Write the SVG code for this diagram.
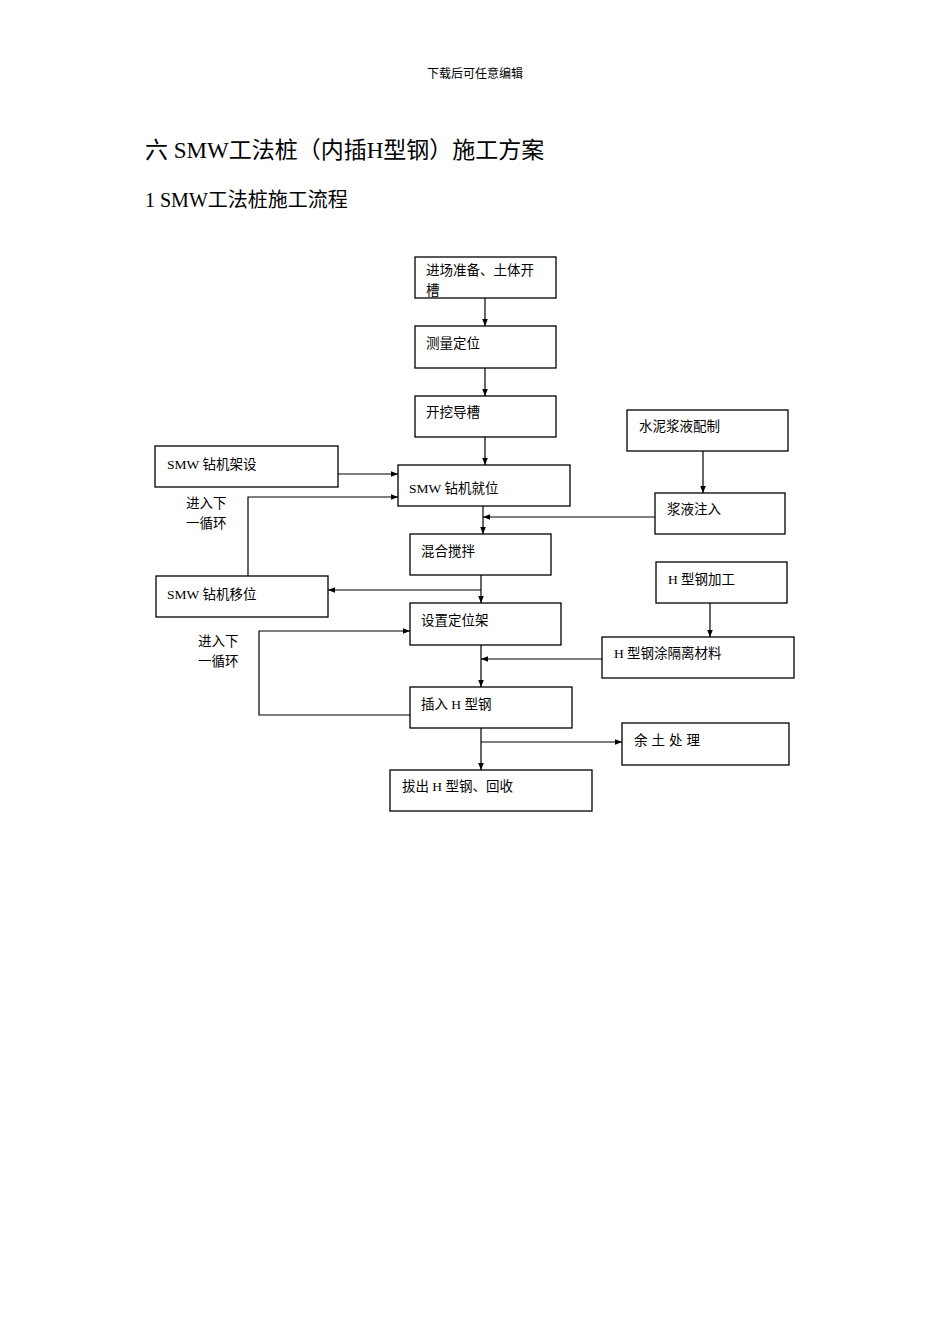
<svg xmlns="http://www.w3.org/2000/svg" width="950" height="1344" viewBox="0 0 950 1344">
<style>
.b{fill:#fff;stroke:#000;stroke-width:1.3}
.t{font-family:"Liberation Serif","Noto Sans CJK SC",serif;font-size:13.5px;fill:#000}
.c{fill:none;stroke:#000;stroke-width:1.2}
.h{font-family:"Liberation Serif","Noto Sans CJK SC",serif;fill:#000}
</style>
<defs><marker id="a" viewBox="0 0 10 10" refX="10" refY="5" markerWidth="7" markerHeight="7" orient="auto" markerUnits="userSpaceOnUse"><path d="M0,1 L10,5 L0,9 z" fill="#000"/></marker></defs>
<rect width="950" height="1344" fill="#fff"/>
<text class="h" x="475" y="78" font-size="12" text-anchor="middle">下载后可任意编辑</text>
<text class="h" x="145" y="158" font-size="23">六 SMW工法桩（内插H型钢）施工方案</text>
<text class="h" x="145" y="207" font-size="20">1   SMW工法桩施工流程</text>
<g id="n1"><rect class="b" x="415" y="257" width="141" height="41"/><text class="t" x="426" y="275">进场准备、土体开</text><text class="t" x="426" y="295">槽</text></g>
<g id="n2"><rect class="b" x="415" y="326" width="141" height="42"/><text class="t" x="426" y="348">测量定位</text></g>
<g id="n3"><rect class="b" x="415" y="396" width="141" height="41"/><text class="t" x="426" y="417">开挖导槽</text></g>
<g id="n4"><rect class="b" x="398" y="465" width="172" height="41"/><text class="t" x="409" y="493">SMW 钻机就位</text></g>
<g id="n5"><rect class="b" x="155" y="446" width="183" height="41"/><text class="t" x="167" y="469">SMW 钻机架设</text></g>
<g id="n6"><rect class="b" x="627" y="410" width="161" height="41"/><text class="t" x="639" y="431">水泥浆液配制</text></g>
<g id="n7"><rect class="b" x="655" y="493" width="130" height="41"/><text class="t" x="667" y="514">浆液注入</text></g>
<g id="n8"><rect class="b" x="410" y="534" width="141" height="41"/><text class="t" x="421" y="556">混合搅拌</text></g>
<g id="n9"><rect class="b" x="156" y="576" width="172" height="41"/><text class="t" x="167" y="599">SMW 钻机移位</text></g>
<g id="n10"><rect class="b" x="656" y="562" width="131" height="41"/><text class="t" x="668" y="584">H 型钢加工</text></g>
<g id="n11"><rect class="b" x="410" y="603" width="151" height="42"/><text class="t" x="421" y="625">设置定位架</text></g>
<g id="n12"><rect class="b" x="602" y="637" width="192" height="41"/><text class="t" x="614" y="658">H 型钢涂隔离材料</text></g>
<g id="n13"><rect class="b" x="410" y="687" width="162" height="41"/><text class="t" x="421" y="709">插入 H 型钢</text></g>
<g id="n14"><rect class="b" x="622" y="723" width="167" height="42"/><text class="t" x="634" y="745" letter-spacing="4">余土处理</text></g>
<g id="n15"><rect class="b" x="390" y="770" width="202" height="41"/><text class="t" x="402" y="791">拔出 H 型钢、回收</text></g>
<g id="labels">
<text class="t" x="186" y="508">进入下</text><text class="t" x="186" y="528">一循环</text>
<text class="t" x="198" y="646">进入下</text><text class="t" x="198" y="666">一循环</text>
</g>
<g id="connectors">
<path class="c" d="M485,298 V326" marker-end="url(#a)"/>
<path class="c" d="M485,368 V396" marker-end="url(#a)"/>
<path class="c" d="M485,437 V465" marker-end="url(#a)"/>
<path class="c" d="M338,474 H398" marker-end="url(#a)"/>
<path class="c" d="M248,576 V497 H398" marker-end="url(#a)"/>
<path class="c" d="M703,451 V493" marker-end="url(#a)"/>
<path class="c" d="M655,517 H483" marker-end="url(#a)"/>
<path class="c" d="M483,506 V534" marker-end="url(#a)"/>
<path class="c" d="M481,575 V603" marker-end="url(#a)"/>
<path class="c" d="M481,590 H328" marker-end="url(#a)"/>
<path class="c" d="M410,715 H259 V631 H410" marker-end="url(#a)"/>
<path class="c" d="M710,603 V637" marker-end="url(#a)"/>
<path class="c" d="M602,659 H481" marker-end="url(#a)"/>
<path class="c" d="M481,645 V687" marker-end="url(#a)"/>
<path class="c" d="M481,728 V770" marker-end="url(#a)"/>
<path class="c" d="M481,742 H622" marker-end="url(#a)"/>
</g>
</svg>
